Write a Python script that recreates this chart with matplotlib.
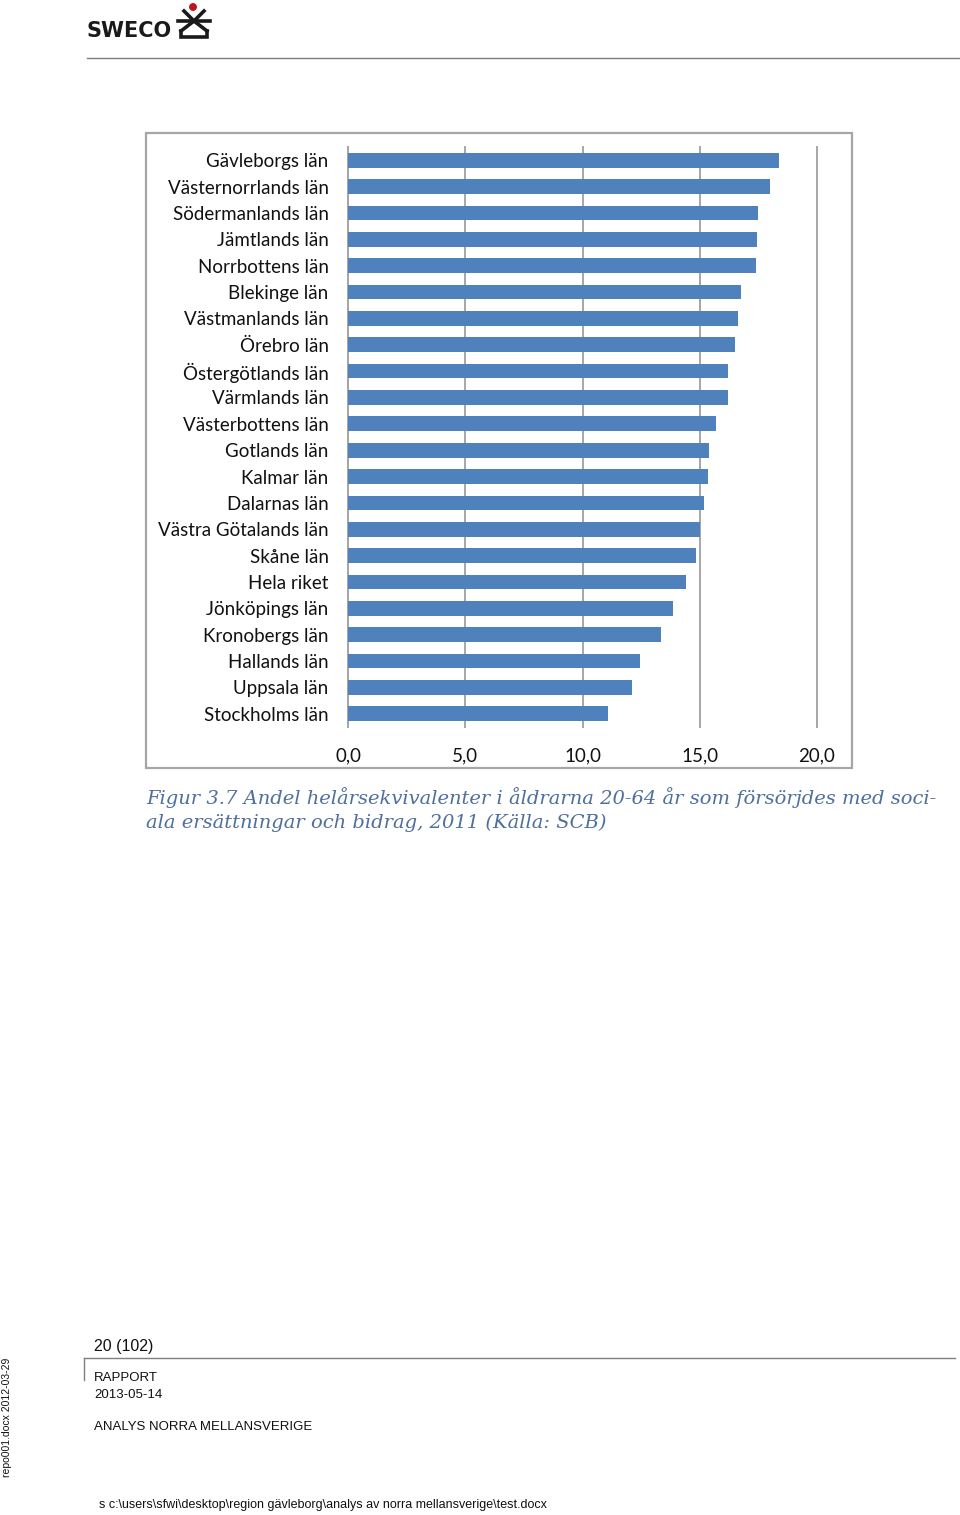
"""Bar chart: Andel helårsekvivalenter 20-64 år med sociala ersättningar, 2011."""

import matplotlib
matplotlib.use("Agg")
import matplotlib.pyplot as plt
import matplotlib.patches as mpatches
from matplotlib.lines import Line2D

W, H = 960, 1515
DPI = 100

counties = [
    "Gävleborgs län", "Västernorrlands län", "Södermanlands län", "Jämtlands län",
    "Norrbottens län", "Blekinge län", "Västmanlands län", "Örebro län",
    "Östergötlands län", "Värmlands län", "Västerbottens län", "Gotlands län",
    "Kalmar län", "Dalarnas län", "Västra Götalands län", "Skåne län",
    "Hela riket", "Jönköpings län", "Kronobergs län", "Hallands län",
    "Uppsala län", "Stockholms län",
]
shares = [
    18.4, 18.0, 17.5, 17.45, 17.4, 16.75, 16.65, 16.5, 16.2, 16.2, 15.7, 15.4,
    15.35, 15.2, 15.0, 14.85, 14.4, 13.85, 13.35, 12.45, 12.1, 11.1,
]
xticks = [0, 5, 10, 15, 20]
xtick_labels = ["0,0", "5,0", "10,0", "15,0", "20,0"]

BAR = "#4f81bd"
GRID = "#a6a6a6"
CAPTION = "#4f6f9c"


def fx(px):
    return px / W


def fy(py):
    return 1 - py / H


fig = plt.figure(figsize=(W / DPI, H / DPI), dpi=DPI, facecolor="white")

# header logo + rule
fig.text(fx(87), fy(31), "SWECO", fontsize=15, fontweight="bold", family="DejaVu Sans",
         color="#1a1a1a", ha="left", va="center")
logo = [
    ((178, 210), (21, 21)),                       # arms
    ((184, 194, 204), (11, 21, 11)),              # upper V
    ((181, 194, 207), (31, 21, 31)),              # legs
    ((181, 181, 207, 207), (31, 37, 37, 31)),     # base
]
for xs, ys in logo:
    fig.add_artist(Line2D([fx(x) for x in xs], [fy(y) for y in ys], color="#1a1a1a",
                          lw=2.6, solid_joinstyle="miter"))
fig.add_artist(mpatches.Ellipse((fx(193), fy(7)), 6.5 / W, 6.5 / H, color="#c0141c",
                                transform=fig.transFigure))
fig.add_artist(Line2D([fx(87), fx(960)], [fy(58), fy(58)], color="#7f7f7f", lw=1.0))

# chart frame
fig.add_artist(mpatches.Rectangle((fx(146), fy(768)), fx(852) - fx(146), fy(133) - fy(768),
                                  transform=fig.transFigure, fill=False,
                                  edgecolor="#a6a6a6", lw=1.6))

ax = fig.add_axes([fx(348), fy(727), fx(817) - fx(348), fy(147) - fy(727)])
ypos = list(range(len(counties)))
ax.barh(ypos, shares, height=0.56, color=BAR, zorder=3)
ax.set_ylim(len(counties) - 0.5, -0.5)
ax.set_xlim(0, 20)
ax.set_yticks(ypos)
ax.set_yticklabels(counties, family="Lato", fontsize=13.5, color="#111111")
ax.set_xticks(xticks)
ax.set_xticklabels(xtick_labels, family="Lato", fontsize=13.5, color="#111111")
ax.tick_params(axis="both", length=0)
ax.tick_params(axis="y", pad=14)
ax.tick_params(axis="x", pad=14.5)
ax.grid(axis="x", color=GRID, lw=1.4, zorder=0)
for gl in ax.get_xgridlines():
    gl.set_clip_on(False)
for side in ("top", "right", "bottom"):
    ax.spines[side].set_visible(False)
ax.spines["left"].set_color(GRID)
ax.spines["left"].set_linewidth(1.4)

# caption
cap_kw = dict(fontsize=14, style="italic", family="DejaVu Serif", color=CAPTION, ha="left",
              va="center")
fig.text(fx(146), fy(798), "Figur 3.7 Andel helårsekvivalenter i åldrarna 20-64 år som försörjdes med soci-",
         **cap_kw)
fig.text(fx(146), fy(823), "ala ersättningar och bidrag, 2011 (Källa: SCB)", **cap_kw)

# footer
fig.text(fx(94), fy(1347), "20 (102)", fontsize=11.5, family="Liberation Sans", ha="left",
         va="center", color="#111111")
fig.add_artist(Line2D([fx(84), fx(955)], [fy(1358), fy(1358)], color="#7f7f7f", lw=1.0))
fig.add_artist(Line2D([fx(84), fx(84)], [fy(1358), fy(1380)], color="#7f7f7f", lw=1.0))
foot_kw = dict(fontsize=9.5, family="Liberation Sans", ha="left", va="center", color="#111111")
fig.text(fx(94), fy(1378), "RAPPORT", **foot_kw)
fig.text(fx(94), fy(1395), "2013-05-14", **foot_kw)
fig.text(fx(94), fy(1427), "ANALYS NORRA MELLANSVERIGE", **foot_kw)
fig.text(fx(7), fy(1417), "repo001.docx 2012-03-29", rotation=90, fontsize=7.5,
         family="Liberation Sans", ha="center", va="center", color="#111111")
fig.text(fx(99), fy(1505), "s c:\\users\\sfwi\\desktop\\region gävleborg\\analys av norra mellansverige\\test.docx",
         fontsize=9, family="Liberation Sans", ha="left", va="center", color="#111111")

fig.savefig("out.png", dpi=DPI, facecolor="white")
